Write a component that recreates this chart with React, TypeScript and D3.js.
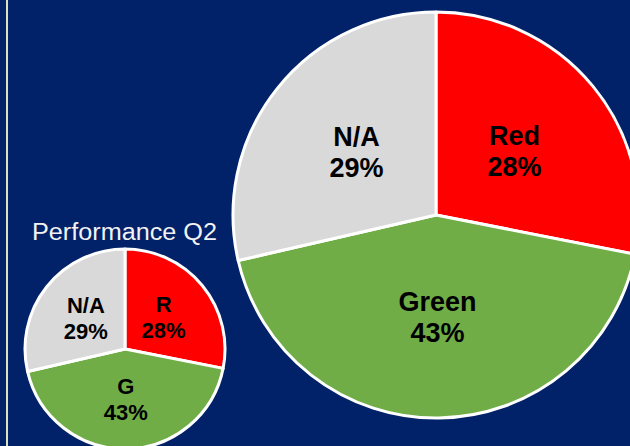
import React from "react";
import * as d3 from "d3";

const categoriesLong = ["Red", "Green", "N/A"];
const categoriesShort = ["R", "G", "N/A"];
const values = [28.1, 43.3, 28.6];
const colors = ["#FF0000", "#70AD47", "#D9D9D9"];
const title = "Performance Q2";

const W = 630;
const H = 446;

function Pie({ cx, cy, r, labels, fontSize, lineGap, stroke }: any) {
  const pie = d3.pie<number>().sort(null).value((d) => d);
  const arcs = pie(values);
  const arc = d3.arc<any>().innerRadius(0).outerRadius(r);
  const labelArc = d3.arc<any>().innerRadius(r * 0.5).outerRadius(r * 0.5);
  const total = d3.sum(values);
  const capH = fontSize * 0.716;
  const blockH = capH + lineGap;
  return (
    <g transform={`translate(${cx},${cy})`}>
      {arcs.map((a, i) => (
        <path key={i} d={arc(a) as string} fill={colors[i]} stroke="#FFFFFF" strokeWidth={stroke} strokeLinejoin="round" />
      ))}
      {arcs.map((a, i) => {
        const [x, y] = labelArc.centroid(a);
        const b1 = y - blockH / 2 + capH;
        return (
          <text key={"t" + i} x={x} textAnchor="middle" fontFamily="'Liberation Sans', Arial, sans-serif" fontWeight="bold" fontSize={fontSize} fill="#000000">
            <tspan x={x} y={b1}>{labels[i]}</tspan>
            <tspan x={x} y={b1 + lineGap}>{Math.round((values[i] / total) * 100) + "%"}</tspan>
          </text>
        );
      })}
    </g>
  );
}

export default function App() {
  return (
    <svg width={W} height={H} style={{ position: "absolute", left: 0, top: 0, display: "block" }}>
      <rect x={0} y={0} width={W} height={H} fill="#012169" />
      <line x1={7} y1={0} x2={7} y2={H} stroke="#D6E3BC" strokeWidth={2} />
      <Pie cx={436} cy={215} r={203} labels={categoriesLong} fontSize={27} lineGap={31} stroke={3} />
      <Pie cx={125} cy={349} r={100} labels={categoriesShort} fontSize={22} lineGap={26} stroke={3} />
      <text x={32} y={240} fontFamily="'Liberation Sans', Arial, sans-serif" fontSize={23} fill="#F2F2F2" textLength={185} lengthAdjust="spacingAndGlyphs">{title}</text>
    </svg>
  );
}
